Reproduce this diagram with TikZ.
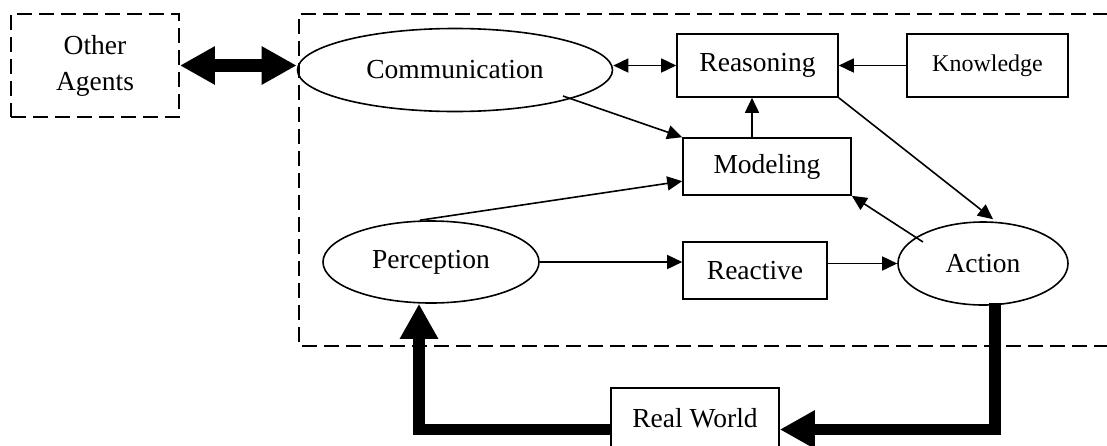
\documentclass[tikz,border=0pt]{standalone}
\usepackage{fontspec}
\setmainfont{Liberation Serif}
\usetikzlibrary{arrows.meta,shapes.geometric,calc}

\tikzset{
  px/.style={x=1pt,y=-1pt},
  lbl/.style={font=\fontsize{27.5}{36}\selectfont, inner sep=0pt},
  box/.style={lbl, draw, line width=1.6pt, rectangle},
  oval/.style={lbl, draw, line width=1.6pt, ellipse},
  dashbox/.style={line width=1.8pt, dash pattern=on 15pt off 7pt},
  arr/.style={line width=1.6pt, -{Triangle[length=15pt,width=14pt]}},
  dblarr/.style={line width=1.6pt, {Triangle[length=15pt,width=14pt]}-{Triangle[length=15pt,width=14pt]}},
  thickarr/.style={line width=11.5pt, -{Triangle[length=35pt,width=36pt]}},
  thickdbl/.style={line width=13pt, {Triangle[length=35pt,width=36pt]}-{Triangle[length=35pt,width=36pt]}},
}

\begin{document}
\begin{tikzpicture}[px]
  \useasboundingbox (0,0) rectangle (1107,445);
  \clip (0,0) rectangle (1107,445);
  \fill[white] (0,0) rectangle (1107,445);

  % agent boundary (open to the right)
  \draw[dashbox] (1130,14) -- (299,14) -- (299,345.7) -- (1130,345.7);

  % other agents
  \node[lbl, draw, dashbox, minimum width=168pt, minimum height=103pt, align=center]
    (others) at (95,65.5) {Other\\Agents};

  % components
  \node[oval, minimum width=315pt, minimum height=83pt] (comm) at (455,70) {Communication};
  \node[box, minimum width=161pt, minimum height=63pt] (reason) at (757.5,65.5) {Reasoning};
  \node[box, minimum width=161pt, minimum height=63pt, font=\fontsize{24}{30}\selectfont]
    (know) at (987.5,65.5) {Knowledge};
  \node[box, minimum width=168pt, minimum height=57pt] (model) at (767,166.5) {Modeling};
  \node[oval, minimum width=216pt, minimum height=82pt] (percep) at (431,262) {Perception};
  \node[box, minimum width=144pt, minimum height=57pt] (react) at (755,270.5) {Reactive};
  \node[oval, minimum width=170pt, minimum height=83pt] (action) at (983,263.5) {Action};
  \node[box, minimum width=168pt, minimum height=61pt] (world) at (695,418.5) {Real World};

  % free ends inside the ellipses
  \coordinate (commout) at (563,96);
  \coordinate (actout) at (923,242);

  % connectors
  \draw[thickdbl] (others.east) -- (others.east -| comm.west);
  \draw[dblarr] (comm.east |- reason.west) -- (reason.west);
  \draw[arr] (know.west) -- (reason.east);
  \draw[arr] ([xshift=-15pt]model.north) -- ([xshift=-15pt]model.north |- reason.south);
  \draw[arr] (commout) -- (model.north west);
  \draw[arr] ([xshift=-11pt]percep.north) -- ($(model.south west)!0.25!(model.north west)$);
  \draw[arr] (actout) -- (model.south east);
  \draw[arr] (reason.south east) -- ([xshift=10pt,yshift=2pt]action.north);
  \draw[arr] (percep.east) -- (percep.east -| react.west);
  \draw[arr] (react.east |- action.west) -- (action.west);

  % feedback through the environment
  \draw[thickarr] ([xshift=12pt,yshift=3pt]action.south) |- ([yshift=-11pt]world.east);
  \draw[thickarr] ([yshift=-11pt]world.west) -| ([xshift=-12pt]percep.south);
\end{tikzpicture}
\end{document}
